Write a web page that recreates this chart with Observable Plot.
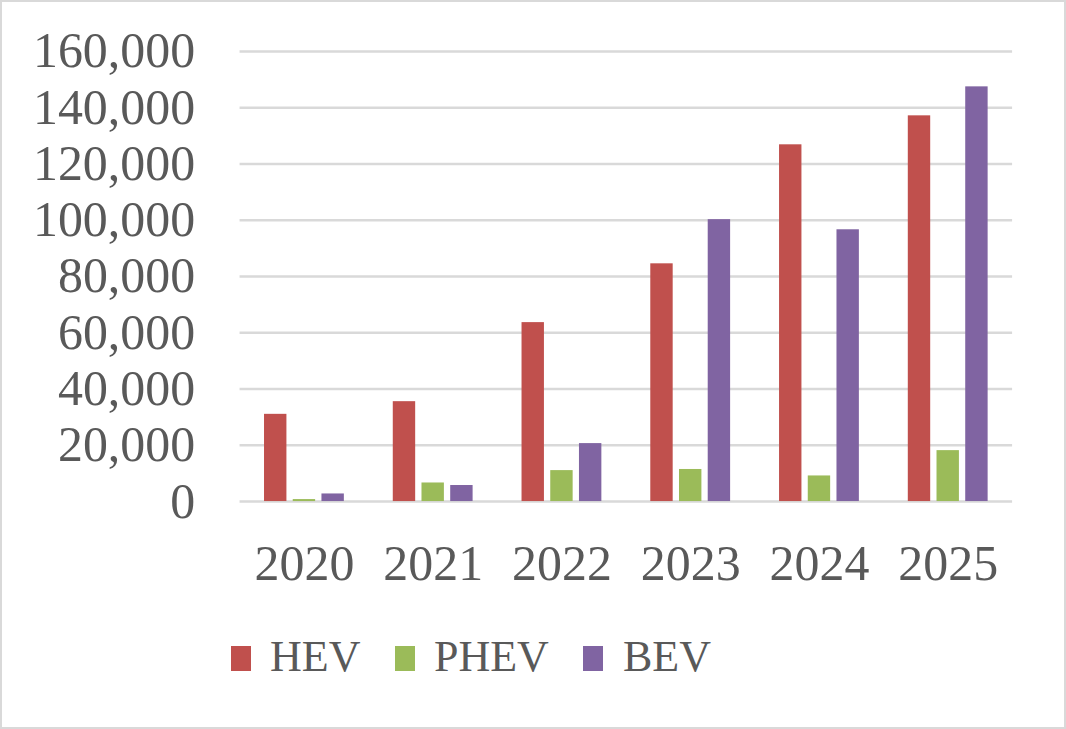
<!DOCTYPE html>
<html>
<head>
<meta charset="utf-8">
<script src="https://cdn.jsdelivr.net/npm/d3@7"></script>
<script src="https://cdn.jsdelivr.net/npm/@observablehq/plot@0.6"></script>
<style>
  html, body { margin: 0; padding: 0; background: #fff; }
  #wrap { position: relative; width: 1066px; height: 729px; box-sizing: border-box; border: 2px solid #d9d9d9; overflow: hidden; }
  #chart { position: absolute; left: -2px; top: -2px; }
  .leg { position: absolute; font-family: "Liberation Serif", serif; font-size: 44px; color: #595959; line-height: 1; }
  .sw { position: absolute; width: 20px; height: 25px; }
</style>
</head>
<body>
<div id="wrap"><div id="chart"></div><div id="legend"></div></div>
<script>
const years = ["2020", "2021", "2022", "2023", "2024", "2025"];
const seriesNames = ["HEV", "PHEV", "BEV"];
const seriesColors = ["#C0504D", "#9BBB59", "#8064A2"];
const hev  = [31000, 35500, 63600, 84500, 126800, 137100];
const phev = [700, 6600, 11000, 11400, 9100, 18100];
const bev  = [2700, 5700, 20600, 100200, 96600, 147400];
const yTicks = [0, 20000, 40000, 60000, 80000, 100000, 120000, 140000, 160000];

const seriesValues = [hev, phev, bev];
const rows = [];
seriesNames.forEach((s, i) => years.forEach((y, j) => rows.push({year: y, series: s, value: seriesValues[i][j]})));

const W = 1066, H = 610;
const mL = 240, mR = 52, mT = 51, mB = 108;
const pIn = 0.38, pOut = 0.19;
const step = (W - mL - mR) / (years.length - pIn + 2 * pOut);
const band = step * (1 - pIn);
const sub = band / (3 - 0.22);
const barW = sub * (1 - 0.22);
const inset = (band - barW) / 2;

const barMarks = seriesNames.map((s, i) => Plot.barY(rows.filter(r => r.series === s), {
  x: "year", y: "value", fill: seriesColors[i],
  insetLeft: inset, insetRight: inset, dx: (i - 1) * sub
}));

const plot = Plot.plot({
  width: W, height: H,
  marginLeft: mL, marginRight: mR, marginTop: mT, marginBottom: mB,
  style: { fontFamily: "Liberation Serif, serif", fontSize: "50px", color: "#595959", background: "transparent" },
  x: { domain: years, paddingInner: pIn, paddingOuter: pOut, round: false, label: null },
  y: { domain: [0, 160000], label: null },
  marks: [
    Plot.gridY(yTicks, { stroke: "#d9d9d9", strokeOpacity: 1, strokeWidth: 2.5 }),
    ...barMarks,
    Plot.axisY(yTicks, { tickSize: 0, tickPadding: 45, tickFormat: d3.format(","), fill: "#595959", fontSize: 50, label: null }),
    Plot.axisX({ tickSize: 0, tickPadding: 43, fill: "#595959", fontSize: 50, label: null })
  ]
});
document.getElementById("chart").appendChild(plot);

// legend
const legend = document.getElementById("legend");
const legPos = [[231, 270], [395, 434], [583, 623]];
seriesNames.forEach((s, i) => {
  const sw = document.createElement("div");
  sw.className = "sw";
  sw.style.left = (legPos[i][0] - 2) + "px";
  sw.style.top = (646 - 2) + "px";
  sw.style.background = seriesColors[i];
  legend.appendChild(sw);
  const t = document.createElement("div");
  t.className = "leg";
  t.textContent = s;
  t.style.left = (legPos[i][1] - 2) + "px";
  t.style.top = (635 - 2) + "px";
  legend.appendChild(t);
});
</script>
</body>
</html>
